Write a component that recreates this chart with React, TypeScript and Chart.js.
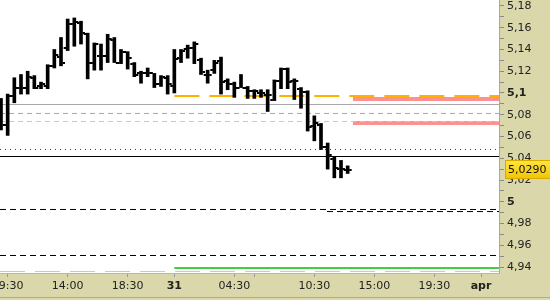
import React, { useEffect, useRef } from "react";
import { Chart, registerables } from "chart.js";

Chart.register(...registerables);

// ---- data (30-minute bars, index = slot) ----
const OPEN = [5.091, 5.071, 5.097, 5.105, 5.105, 5.114, 5.106, 5.106, 5.125, 5.133, 5.141, 5.163, 5.164, 5.154, 5.128, 5.134, 5.134, 5.149, 5.128, 5.138, 5.127, 5.118, 5.118, 5.118, 5.108, 5.114, 5.106, 5.132, 5.140, 5.141, 5.130, 5.117, 5.121, 5.129, 5.111, 5.108, 5.105, 5.105, 5.102, 5.100, 5.098, 5.094, 5.111, 5.122, 5.111, 5.104, 5.101, 5.070, 5.071, 5.050, 5.039, 5.030, 5.029];
const HIGH = [5.095, 5.099, 5.114, 5.117, 5.120, 5.116, 5.110, 5.126, 5.140, 5.151, 5.168, 5.169, 5.166, 5.155, 5.146, 5.145, 5.154, 5.151, 5.140, 5.138, 5.128, 5.120, 5.123, 5.118, 5.116, 5.116, 5.140, 5.140, 5.144, 5.147, 5.132, 5.121, 5.130, 5.133, 5.113, 5.110, 5.117, 5.106, 5.103, 5.103, 5.103, 5.112, 5.123, 5.123, 5.113, 5.105, 5.102, 5.079, 5.072, 5.054, 5.041, 5.038, 5.033];
const LOW = [5.066, 5.061, 5.091, 5.099, 5.099, 5.104, 5.104, 5.104, 5.123, 5.125, 5.139, 5.143, 5.145, 5.113, 5.121, 5.121, 5.128, 5.128, 5.127, 5.122, 5.115, 5.109, 5.115, 5.105, 5.106, 5.099, 5.100, 5.128, 5.132, 5.127, 5.117, 5.109, 5.118, 5.099, 5.103, 5.096, 5.105, 5.095, 5.095, 5.096, 5.083, 5.093, 5.104, 5.104, 5.094, 5.086, 5.065, 5.056, 5.048, 5.030, 5.022, 5.022, 5.026];
const CLOSE = [5.071, 5.097, 5.105, 5.105, 5.115, 5.105, 5.108, 5.125, 5.135, 5.128, 5.163, 5.165, 5.155, 5.128, 5.145, 5.134, 5.150, 5.128, 5.138, 5.132, 5.117, 5.118, 5.118, 5.108, 5.115, 5.108, 5.131, 5.139, 5.141, 5.145, 5.119, 5.117, 5.128, 5.110, 5.108, 5.105, 5.105, 5.102, 5.102, 5.100, 5.098, 5.111, 5.122, 5.110, 5.111, 5.101, 5.069, 5.072, 5.050, 5.043, 5.031, 5.030, 5.029];

const X_TICKS = [1, 10, 19, 26, 35, 38, 47, 56, 65, 72];
const X_LABELS = ["09:30", "14:00", "18:30", "31", "04:30", "", "10:30", "15:00", "19:30", "apr"];
const X_BOLD = ["31", "apr"];

const Y_MIN = 4.9345;
const Y_MAX = 5.1855;
const Y_STEP = 0.01;
const X_MIN = -0.15;
const X_MAX = 74.7;

// horizontal reference levels
const LEVEL_VALUES = [5.0894, 5.0812, 5.0738, 5.0481, 5.0416, 4.9929, 4.991, 4.9506, 4.9391, 4.9359, 5.0945, 5.0724, 5.0972];
const LEVEL_FROM = [X_MIN, X_MIN, X_MIN, X_MIN, X_MIN, X_MIN, 48.9, X_MIN, 26, X_MIN, 52.8, 52.8, 26];

const LEVEL_STYLES = [
  { color: "#a8a8a8", width: 1, dash: [] as number[], order: 2 },
  { color: "#f080b8", width: 1, dash: [5, 4], order: 2 },
  { color: "#c8c8c8", width: 1, dash: [5, 4], order: 2 },
  { color: "#7a0a9a", width: 1, dash: [1, 4], order: 2 },
  { color: "#000000", width: 1, dash: [], order: 2 },
  { color: "#000000", width: 1, dash: [6, 4], order: 2 },
  { color: "#000000", width: 1, dash: [6, 4], order: 2 },
  { color: "#000000", width: 1, dash: [6, 4], order: 2 },
  { color: "#44cc44", width: 2, dash: [], order: 2 },
  { color: "#c8c8c8", width: 1, dash: [25, 10], order: 2 },
  { color: "#ff9090", width: 4, dash: [], order: 3 },
  { color: "#ff9090", width: 4, dash: [], order: 3 },
  { color: "#ffb000", width: 2, dash: [25, 10], order: 1 },
];

const KHAKI = "#dad8aa";
const FONT = "DejaVu Sans";

const fmtY = (v: number) => {
  const idx = Math.round(v * 100);
  if (idx % 2 !== 0) return "";
  return (idx / 100).toString().replace(".", ",");
};

const zeroPad = (s: any) => {
  s.paddingLeft = 0;
  s.paddingRight = 0;
  s.paddingTop = 0;
  s.paddingBottom = 0;
};

const framePlugin = {
  id: "frame",
  beforeDraw(chart: any) {
    const { ctx, width, height, chartArea } = chart;
    ctx.save();
    ctx.fillStyle = KHAKI;
    ctx.fillRect(0, 0, width, height);
    ctx.fillStyle = "#ffffff";
    ctx.fillRect(chartArea.left, chartArea.top, chartArea.right - chartArea.left, chartArea.bottom - chartArea.top);
    ctx.fillStyle = "#a8a8a8";
    ctx.fillRect(0, 297, width, 1);
    ctx.restore();
  },
  afterDatasetsDraw(chart: any) {
    const { ctx, scales, chartArea } = chart;
    const xs = scales.x;
    const ys = scales.y;
    ctx.save();
    ctx.beginPath();
    ctx.rect(chartArea.left, chartArea.top, chartArea.right - chartArea.left, chartArea.bottom - chartArea.top);
    ctx.clip();
    ctx.fillStyle = "#000";
    for (let i = 0; i < OPEN.length; i++) {
      const x = xs.getPixelForValue(i);
      const yo = Math.round(ys.getPixelForValue(OPEN[i]));
      const yc = Math.round(ys.getPixelForValue(CLOSE[i]));
      ctx.fillRect(x - 4, yo - 1, 2.5, 2);
      ctx.fillRect(x + 1.5, yc - 1, 2.5, 2);
    }
    ctx.restore();
  },
  afterDraw(chart: any) {
    const { ctx, scales } = chart;
    const last = CLOSE[CLOSE.length - 1];
    const y = scales.y.getPixelForValue(last);
    const top = Math.round(y - 10);
    const left = 505;
    const w = 45;
    const h = 19;
    ctx.save();
    const g = ctx.createLinearGradient(0, top, 0, top + h);
    g.addColorStop(0, "#ffe640");
    g.addColorStop(1, "#f2c400");
    ctx.fillStyle = g;
    ctx.fillRect(left, top, w, h);
    ctx.strokeStyle = "#d9ab00";
    ctx.lineWidth = 1;
    ctx.strokeRect(left + 0.5, top + 0.5, w, h - 1);
    ctx.fillStyle = "#111";
    ctx.font = `11px "${FONT}"`;
    ctx.textBaseline = "middle";
    ctx.textAlign = "left";
    ctx.fillText(last.toFixed(4).replace(".", ","), 508, top + h / 2 + 0.5);
    ctx.restore();
  },
};

export default function App() {
  const ref = useRef<HTMLCanvasElement | null>(null);

  useEffect(() => {
    if (!ref.current) return;
    Chart.defaults.font.family = FONT;
    Chart.defaults.font.size = 11;

    const lineSets = LEVEL_VALUES.map((v, k) => ({
      type: "line" as const,
      data: [
        { x: LEVEL_FROM[k], y: v },
        { x: X_MAX, y: v },
      ],
      borderColor: LEVEL_STYLES[k].color,
      borderWidth: LEVEL_STYLES[k].width,
      borderDash: LEVEL_STYLES[k].dash,
      borderCapStyle: "butt" as const,
      pointRadius: 0,
      fill: false,
      tension: 0,
      order: LEVEL_STYLES[k].order,
    }));

    const chart = new Chart(ref.current, {
      type: "bar",
      data: {
        datasets: [
          {
            type: "bar" as const,
            data: HIGH.map((h, i) => ({ x: i, y: [LOW[i], h] })) as any,
            backgroundColor: "#000",
            borderWidth: 0,
            barThickness: 3,
            order: 0,
          },
          ...lineSets,
        ] as any,
      },
      options: {
        responsive: false,
        animation: false,
        events: [],
        layout: { autoPadding: false, padding: 0 } as any,
        plugins: { legend: { display: false }, tooltip: { enabled: false } },
        scales: {
          x: {
            type: "linear",
            position: "bottom",
            min: X_MIN,
            max: X_MAX,
            offset: false,
            afterFit: (s: any) => {
              s.height = 27;
              zeroPad(s);
            },
            afterBuildTicks: (s: any) => {
              s.ticks = X_TICKS.map((v) => ({ value: v }));
            },
            ticks: {
              autoSkip: false,
              maxRotation: 0,
              minRotation: 0,
              padding: 3,
              color: "#222",
              font: (c: any) => {
                const idx = X_TICKS.indexOf(c.tick ? c.tick.value : -1);
                const lab = idx >= 0 ? X_LABELS[idx] : "";
                return { family: FONT, size: 11, weight: X_BOLD.includes(lab) ? "bold" : "normal" };
              },
              callback: (v: any) => {
                const idx = X_TICKS.indexOf(Number(v));
                return idx >= 0 ? X_LABELS[idx] : "";
              },
            },
            grid: { drawOnChartArea: false, drawTicks: true, tickLength: 4, color: "#9a9a9a", offset: false },
            border: { color: "#b8b8b8" },
          },
          y: {
            type: "linear",
            position: "right",
            min: Y_MIN,
            max: Y_MAX,
            afterFit: (s: any) => {
              s.width = 51;
              zeroPad(s);
            },
            ticks: {
              stepSize: Y_STEP,
              includeBounds: false,
              autoSkip: false,
              padding: 3,
              color: "#222",
              font: (c: any) => {
                const v = c.tick ? c.tick.value : 0;
                const idx = Math.round(v * 100);
                return { family: FONT, size: 11, weight: idx % 10 === 0 ? "bold" : "normal" };
              },
              callback: (v: any) => fmtY(Number(v)),
            },
            grid: { drawOnChartArea: false, drawTicks: true, tickLength: 5, color: "#8a8a8a" },
            border: { color: "#a8a8a8" },
          },
        },
      } as any,
      plugins: [framePlugin],
    });

    return () => chart.destroy();
  }, []);

  return (
    <div style={{ position: "fixed", left: 0, top: 0, width: 550, height: 300 }}>
      <canvas ref={ref} width={550} height={300} style={{ display: "block" }} />
    </div>
  );
}
